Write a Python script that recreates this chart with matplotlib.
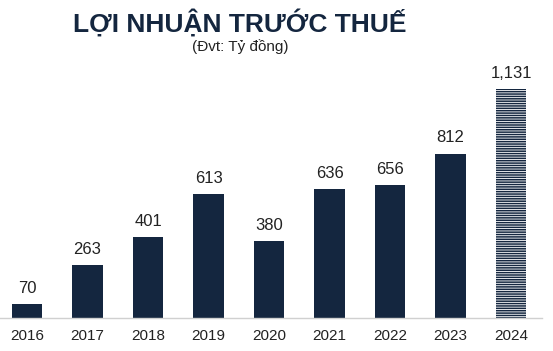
import matplotlib
matplotlib.use("Agg")
import matplotlib.pyplot as plt

years = ["2016", "2017", "2018", "2019", "2020", "2021", "2022", "2023", "2024"]
profit = [70, 263, 401, 613, 380, 636, 656, 812, 1131]
labels = ["70", "263", "401", "613", "380", "636", "656", "812", "1,131"]

navy = "#14263f"
plt.rcParams["font.family"] = ["Liberation Sans", "DejaVu Sans"]
plt.rcParams["hatch.linewidth"] = 1.1

fig = plt.figure(figsize=(5.53, 3.51), dpi=100)
ax = fig.add_axes([0, 33 / 351, 542 / 553, 258 / 351])

x = range(len(years))
ax.bar(list(x)[:-1], profit[:-1], width=0.5, color=navy)
# 2024 bar: striped (forecast)
ax.bar([8], [profit[-1]], width=0.5, color="white", edgecolor=navy,
       hatch="-------", linewidth=0)

for i, (v, lab) in enumerate(zip(profit, labels)):
    ax.text(i, v + 40, lab, ha="center", va="bottom", fontsize=12, color="#222222")

ax.set_xlim(-0.446, 8.51)
ax.set_ylim(0, 1274)
ax.set_xticks(list(x))
ax.set_xticklabels(years, fontsize=11, color="#222222")
ax.tick_params(axis="x", length=0, pad=8)
ax.set_yticks([])
for side in ["top", "right", "left"]:
    ax.spines[side].set_visible(False)
ax.spines["bottom"].set_color("#d0d0d0")
ax.spines["bottom"].set_linewidth(1)

fig.text(240 / 553, 1 - 23 / 351, "LỢI NHUẬN TRƯỚC THUẾ", ha="center", va="center",
         fontsize=19, fontweight="bold", color=navy)
fig.text(240 / 553, 1 - 47 / 351, "(Đvt: Tỷ đồng)", ha="center", va="center",
         fontsize=11, color="#222222")

plt.savefig("out.png", dpi=100)
